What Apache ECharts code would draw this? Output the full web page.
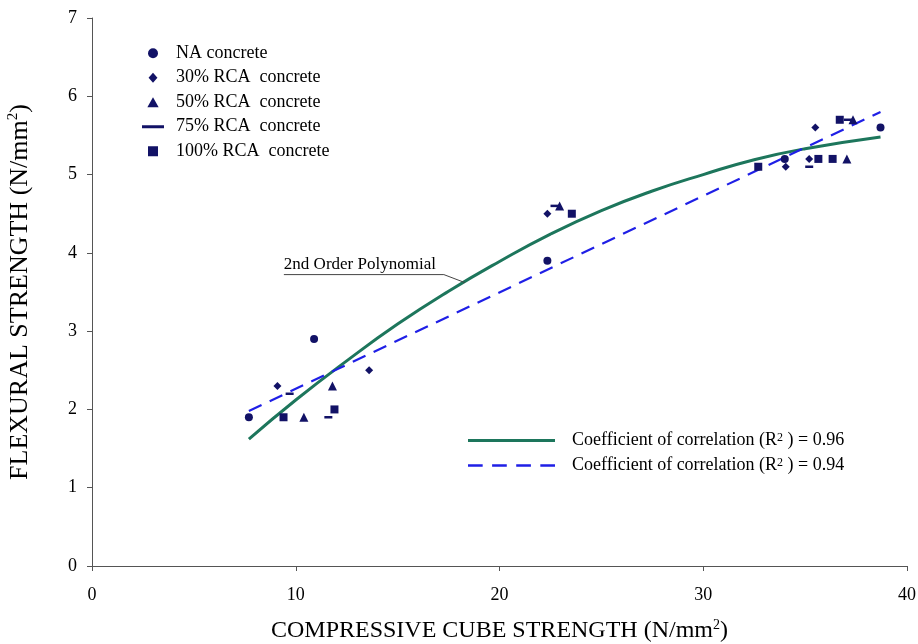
<!DOCTYPE html>
<html><head><meta charset="utf-8">
<script src="https://cdn.jsdelivr.net/npm/echarts@6/dist/echarts.min.js"></script>
<style>html,body{margin:0;padding:0;background:#fff}#c{width:918px;height:644px}</style>
</head><body><div id="c"></div>
<script>
// ---- data ----
const seriesNames = ['NA concrete', '30% RCA  concrete', '50% RCA  concrete', '75% RCA  concrete', '100% RCA  concrete'];
const naData   = [[7.7,1.9],[10.9,2.9],[22.35,3.9],[34.0,5.2],[38.7,5.6]];
const rca30    = [[9.1,2.3],[13.6,2.5],[22.35,4.5],[34.05,5.1],[35.2,5.2],[35.5,5.6]];
const rca50    = [[10.4,1.9],[11.8,2.3],[22.95,4.6],[37.05,5.2],[37.35,5.7]];
const rca75    = [[9.7,2.2],[11.6,1.9],[22.7,4.6],[35.2,5.1],[37.1,5.7]];
const rca100   = [[9.4,1.9],[11.9,2.0],[23.55,4.5],[32.7,5.1],[35.65,5.2],[36.35,5.2],[36.7,5.7]];
// curves
const polyX = [7.7, 10, 12.5, 15, 17.5, 20, 22.5, 25, 27.5, 30, 32.5, 35, 38.7];
const polyY = [1.62, 2.12, 2.62, 3.09, 3.51, 3.89, 4.24, 4.54, 4.79, 5.00, 5.19, 5.33, 5.48];
const linX = [7.7, 38.7];
const linY = [1.98, 5.80];
const trendNames = ['Coefficient of correlation (R^2 ) = 0.96', 'Coefficient of correlation (R^2 ) = 0.94'];
const xTicks = { min: 0, max: 40, interval: 10 };
const yTicks = { min: 0, max: 7, interval: 1 };
const annotationText = '2nd Order Polynomial';
const annotationAnchor = [18.3, 3.62];

// ---- chart ----
const FONT = 'Liberation Serif';
const NAVY = '#121266';
const GREEN = '#1d765c';
const BLUE = '#1f1fe6';
const zip = (xs, ys) => xs.map((x, i) => [x, ys[i]]);

const scatterDefs = [
  { data: naData, symbol: 'circle', size: 8, icon: 'circle' },
  { data: rca30, symbol: 'diamond', size: 8, icon: 'path://M4,0L8,4.5L4,9L0,4.5Z' },
  { data: rca50, symbol: 'triangle', size: 9, icon: 'path://M4.5,0L9,8L0,8Z' },
  { data: rca75, symbol: 'rect', size: [8, 2.5], icon: 'path://M0,0H22V3H0Z' },
  { data: rca100, symbol: 'rect', size: 8, icon: 'path://M0,0H10V10H0Z' }
];

const series = scatterDefs.map((d, i) => ({
  type: 'scatter', name: seriesNames[i], data: d.data,
  symbol: d.symbol, symbolSize: d.size,
  itemStyle: { color: NAVY, opacity: 1 }, z: 5
}));
series.push({
  type: 'line', name: trendNames[0], data: zip(polyX, polyY), smooth: true,
  symbol: 'none', lineStyle: { color: GREEN, width: 3 }, itemStyle: { color: GREEN }, z: 3
});
series.push({
  type: 'line', name: trendNames[1], data: zip(linX, linY),
  symbol: 'none', lineStyle: { color: BLUE, width: 2.2, type: [14, 9] }, itemStyle: { color: BLUE }, z: 4
});

const xNameRich = {
  t: { fontFamily: FONT, fontSize: 24, color: '#000' },
  s: { fontFamily: FONT, fontSize: 14, color: '#000', verticalAlign: 'bottom', padding: [0, 0, 12, 0] }
};
const yNameRich = {
  t: { fontFamily: FONT, fontSize: 26, color: '#000' },
  s: { fontFamily: FONT, fontSize: 15, color: '#000', verticalAlign: 'bottom', padding: [0, 0, 13, 0] }
};
const legRich = {
  t: { fontFamily: FONT, fontSize: 18, color: '#000' },
  s: { fontFamily: FONT, fontSize: 12, color: '#000', verticalAlign: 'bottom', padding: [0, 0, 9, 0] }
};

const chart = echarts.init(document.getElementById('c'), null, { renderer: 'canvas' });
chart.setOption({
  animation: false,
  backgroundColor: '#fff',
  grid: { left: 92, right: 11, top: 18, bottom: 78, containLabel: false, outerBoundsMode: 'none' },
  xAxis: {
    type: 'value', min: xTicks.min, max: xTicks.max, interval: xTicks.interval,
    name: '{t|COMPRESSIVE CUBE STRENGTH (N/mm}{s|2}{t|)}',
    nameLocation: 'middle', nameGap: 52,
    nameTextStyle: { rich: xNameRich },
    axisLine: { lineStyle: { color: '#555', width: 1 } },
    axisTick: { show: true, length: 5, lineStyle: { color: '#555' } },
    axisLabel: { fontFamily: FONT, fontSize: 18, color: '#000', margin: 20 },
    splitLine: { show: false }
  },
  yAxis: {
    type: 'value', min: yTicks.min, max: yTicks.max, interval: yTicks.interval,
    name: '{t|FLEXURAL STRENGTH (N/mm}{s|2}{t|)}',
    nameLocation: 'middle', nameGap: 58, nameRotate: 90,
    nameTextStyle: { rich: yNameRich },
    axisLine: { show: true, lineStyle: { color: '#555', width: 1 } },
    axisTick: { show: true, length: 5, lineStyle: { color: '#555' } },
    axisLabel: { fontFamily: FONT, fontSize: 18, color: '#000', margin: 15 },
    splitLine: { show: false }
  },
  legend: [
    {
      orient: 'vertical', left: 142, top: 41, padding: 0,
      itemWidth: 22, itemHeight: 10, itemGap: 0,
      data: scatterDefs.map((d, i) => ({ name: seriesNames[i], icon: d.icon })),
      textStyle: { fontFamily: FONT, fontSize: 18, color: '#000', lineHeight: 24.5, padding: [0, 0, 0, 7] },
      selectedMode: false
    },
    {
      orient: 'vertical', left: 468, top: 428, padding: 0,
      itemWidth: 87, itemHeight: 14, itemGap: 0,
      data: [
        { name: trendNames[0], icon: 'path://M0,0H87V3H0Z' },
        { name: trendNames[1], icon: 'path://M0,0H14V2.4H0Z M23,0H37V2.4H23Z M46,0H60V2.4H46Z M69,0H83V2.4H69Z' }
      ],
      formatter: n => { const p = n.split('^'); return '{t|' + p[0] + '}{s|' + p[1].charAt(0) + '}{t|' + p[1].slice(1) + '}'; },
      textStyle: { fontFamily: FONT, fontSize: 18, color: '#000', lineHeight: 25, padding: [0, 0, 0, 12], rich: legRich },
      selectedMode: false
    }
  ],
  series: series
});

// annotation for the polynomial curve
const tip = chart.convertToPixel({ gridIndex: 0 }, annotationAnchor);
const elbow = [tip[0] - 21, tip[1] - 8];
const start = [elbow[0] - 160, elbow[1]];
chart.setOption({
  graphic: [
    { type: 'polyline', shape: { points: [start, elbow, tip] }, style: { stroke: '#444', lineWidth: 1, fill: null }, z: 10 },
    { type: 'text', x: start[0], y: elbow[1] - 2, style: { text: annotationText, font: '17px "Liberation Serif"', fill: '#000', textVerticalAlign: 'bottom' }, z: 10 }
  ]
});
</script>
</body></html>
